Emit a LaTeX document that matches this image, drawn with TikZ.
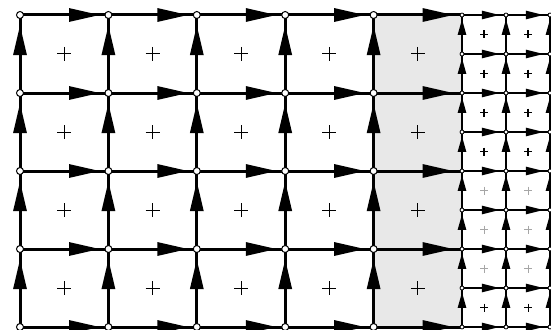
\documentclass[tikz,border=0pt]{standalone}
\usetikzlibrary{arrows.meta,decorations.markings}

\tikzset{
  shaded/.style={fill=gray!18},
  bigh/.style={line width=3pt, postaction={decorate},
    decoration={markings, mark=at position 0.905 with {\arrow{Triangle[length=31pt,width=13pt]}}}},
  bigv/.style={line width=3pt, postaction={decorate},
    decoration={markings, mark=at position 0.87 with {\arrow{Triangle[length=30pt,width=13pt]}}}},
  smallh/.style={line width=2.4pt, postaction={decorate},
    decoration={markings, mark=at position 0.86 with {\arrow{Triangle[length=18pt,width=8pt]}}}},
  smallv/.style={line width=2.4pt, postaction={decorate},
    decoration={markings, mark=at position 0.9 with {\arrow{Triangle[length=16pt,width=8pt]}}}},
  bignode/.style={circle, draw, fill=white, line width=1pt, inner sep=0pt, minimum size=7pt},
  smallnode/.style={circle, draw, fill=white, line width=0.8pt, inner sep=0pt, minimum size=4pt},
  crossmark/.pic={\draw[pic actions] (-7,0) -- (7,0) (0,-7) -- (0,7);},
  finemark/.pic={\draw[pic actions] (-4,0) -- (4,0) (0,-4) -- (0,4);}
}

\begin{document}
\begin{tikzpicture}[x=1pt,y=-1pt]
    \useasboundingbox (0,0) rectangle (551,329);
    \clip (0,0) rectangle (551,329);

    % --- grid points ---
    \foreach \i in {0,...,4}
      \foreach \j in {0,...,4}
        \coordinate (c-\i-\j) at ({20+88.4*\i},{15+78*\j});
    \foreach \i in {0,1,2}
      \foreach \j in {0,...,8}
        \coordinate (f-\i-\j) at ({462+44*\i},{15+39*\j});

    % --- shaded column ---
    \fill[shaded] (c-4-0) rectangle (f-0-8);

    % --- coarse edges ---
    \foreach \j in {0,...,4} {
      \foreach \i [count=\k] in {0,...,3}
        \draw[bigh] (c-\i-\j) -- (c-\k-\j);
      \pgfmathtruncatemacro\jj{2*\j}
      \draw[bigh] (c-4-\j) -- (f-0-\jj);
    }
    \foreach \i in {0,...,4}
      \foreach \j [count=\k] in {0,...,3}
        \draw[bigv] (c-\i-\k) -- (c-\i-\j);

    % --- fine edges ---
    \foreach \j in {0,...,8} {
      \draw[smallh] (f-0-\j) -- (f-1-\j);
      \draw[smallh] (f-1-\j) -- (f-2-\j);
    }
    \foreach \i in {0,1,2}
      \foreach \j [count=\k] in {0,...,7}
        \draw[smallv] (f-\i-\k) -- (f-\i-\j);

    % --- nodes ---
    \foreach \i in {0,...,4}
      \foreach \j in {0,...,4}
        \node[bignode] (n-\i-\j) at (c-\i-\j) {};
    \foreach \i in {0,1,2}
      \foreach \j in {0,...,8}
        \node[smallnode] (m-\i-\j) at (f-\i-\j) {};

    % --- cell marks ---
    \foreach \i in {0,...,4}
      \foreach \j in {0,...,3}
        \pic[line width=1pt] at ({64.2+88.4*\i},{54+78*\j}) {crossmark};
    \foreach \i in {0,1} {
      \foreach \j in {0,...,3}
        \pic[line width=1.5pt] at ({484+44*\i},{34.5+39*\j}) {finemark};
      \foreach \j in {4,5,6}
        \pic[line width=0.6pt, gray!70] at ({484+44*\i},{34.5+39*\j}) {finemark};
      \pic[line width=0.7pt] at ({484+44*\i},{34.5+39*7}) {finemark};
    }
\end{tikzpicture}
\end{document}
